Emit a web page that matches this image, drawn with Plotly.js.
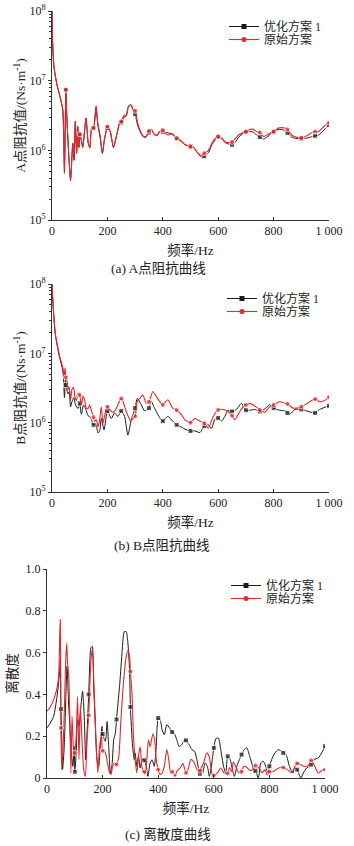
<!DOCTYPE html>
<html><head><meta charset="utf-8">
<script src="https://cdn.plot.ly/plotly-3.0.1.min.js"></script>
<style>html,body{margin:0;padding:0;background:#fff;}#chart{width:354px;height:846px;}</style>
</head><body><div id="chart"></div>
<script>
// ---------- Panel (a): A point impedance ----------
const fA_org = [0,2,7,17,29,39,45,50,53,59,67,75,80,84,89,93,97,100,106,111,119,123,131,137,143,150,159,165,174,182,189,200,210,222,234,244,250,260,268,276,285,294,300,309,318,330,340,350,359,369,379,388,400,409,421,433,450,463,481,500,511,523,539,550,565,577,589,600,614,626,641,650,662,674,686,700,716,728,738,750,764,776,788,800,819,837,850,865,880,900,915,933,950,963,981,1000];
const zA_org = [1e8,3.8e7,1.6e7,9.1e6,5.9e6,3.8e6,4.7e5,7.4e6,3.4e6,1.1e6,
  3.7e5,1.26e6,7.2e5,2.6e6,9.1e5,2.2e6,1.1e6,1.7e6,1.4e6,1.1e6,
  2.2e6,2.9e6,1.26e6,1.1e6,2.1e6,2.1e6,4.4e6,2.5e6,1.6e6,9.1e5,
  1.4e6,2.2e6,1.9e6,1.1e6,1.7e6,2.5e6,2.6e6,3.2e6,3.2e6,4.3e6,
  4.5e6,3.8e6,3.7e6,2.5e6,1.95e6,1.6e6,1.6e6,1.9e6,2.0e6,1.7e6,
  1.66e6,1.86e6,1.95e6,1.74e6,1.66e6,1.74e6,1.48e6,1.41e6,1.2e6,1.12e6,
  1.12e6,9.5e5,8.5e5,9.1e5,1.0e6,1.26e6,1.48e6,1.58e6,1.48e6,1.32e6,
  1.29e6,1.32e6,1.48e6,1.66e6,1.78e6,1.86e6,2.0e6,2.0e6,1.86e6,1.8e6,
  1.58e6,1.66e6,1.78e6,1.86e6,2.1e6,2.1e6,2.0e6,1.66e6,1.55e6,1.51e6,
  1.58e6,1.74e6,1.86e6,1.86e6,2.2e6,2.5e6];
const fA_opt = fA_org.slice();
const zA_opt = [1e8,3.8e7,1.6e7,9.1e6,5.9e6,3.8e6,4.7e5,7.4e6,3.4e6,1.1e6,
  3.7e5,1.26e6,7.2e5,2.6e6,9.1e5,2.2e6,1.1e6,1.7e6,1.4e6,1.1e6,
  2.2e6,2.9e6,1.26e6,1.1e6,2.1e6,2.1e6,4.2e6,2.4e6,1.5e6,9.0e5,
  1.4e6,2.1e6,1.85e6,1.1e6,1.7e6,2.4e6,2.5e6,3.0e6,3.1e6,4.2e6,
  4.5e6,3.6e6,3.3e6,2.3e6,1.85e6,1.55e6,1.55e6,1.8e6,1.95e6,1.7e6,
  1.62e6,1.8e6,1.85e6,1.8e6,1.78e6,1.7e6,1.5e6,1.38e6,1.2e6,1.15e6,
  1.1e6,9.5e5,8.0e5,8.2e5,9.3e5,1.2e6,1.4e6,1.55e6,1.45e6,1.28e6,
  1.22e6,1.2e6,1.32e6,1.55e6,1.7e6,1.82e6,1.86e6,1.82e6,1.66e6,1.55e6,
  1.45e6,1.55e6,1.7e6,1.82e6,2.0e6,1.95e6,1.78e6,1.55e6,1.48e6,1.48e6,
  1.48e6,1.55e6,1.62e6,1.66e6,1.95e6,2.3e6];

// ---------- Panel (b): B point impedance ----------
const fB_org = [0,5,12,23,28,35,40,44,47,50,54,58,62,67,72,78,83,88,94,100,106,112,118,124,130,136,142,150,154,160,166,172,178,184,190,200,208,220,232,240,250,256,268,284,290,300,308,316,328,340,350,364,376,388,400,418,436,450,466,480,500,516,534,550,564,582,600,618,636,650,660,678,696,700,714,732,750,768,786,800,822,840,850,870,882,900,922,950,966,984,1000];
const zB_org = [1e8,4.3e7,1.95e7,1.12e7,8.9e6,7.2e6,6.0e6,4.6e6,6.2e6,4.5e6,
  4.0e6,3.0e6,3.3e6,2.1e6,3.0e6,3.2e6,2.3e6,2.1e6,2.7e6,2.5e6,
  1.8e6,2.4e6,2.1e6,1.6e6,1.6e6,1.8e6,1.5e6,1.2e6,1.05e6,1.1e6,
  8.7e5,1.1e6,1.7e6,9.8e5,1.26e6,1.7e6,1.55e6,1.4e6,1.6e6,1.9e6,
  2.24e6,2.04e6,1.45e6,1.05e6,1.12e6,1.24e6,2.04e6,2.24e6,2.51e6,1.91e6,
  2.0e6,2.82e6,2.4e6,2.04e6,1.8e6,2.14e6,1.62e6,1.52e6,1.32e6,1.1e6,
  1.0e6,1.15e6,1.05e6,9.8e5,8.3e5,1.23e6,1.53e6,1.55e6,1.45e6,1.26e6,
  1.1e6,1.45e6,1.82e6,1.8e6,1.9e6,1.74e6,1.53e6,1.41e6,1.7e6,1.8e6,
  2.0e6,1.91e6,1.86e6,1.62e6,1.62e6,1.7e6,1.91e6,2.19e6,2.0e6,2.09e6,2.34e6];
const fB_opt = [0,5,12,23,28,35,40,45,48,50,58,62,67,72,79,85,94,100,106,114,124,130,136,142,150,158,166,172,178,188,200,214,226,238,250,262,274,286,300,308,322,334,350,358,370,386,400,418,436,450,466,484,500,516,534,550,564,576,588,600,612,624,636,650,666,684,700,714,732,750,768,786,800,822,840,850,862,876,900,918,950,966,1000];
const zB_opt = [1e8,4.2e7,1.86e7,1.05e7,8.5e6,6.6e6,5.2e6,2.3e6,4.2e6,3.5e6,
  2.6e6,2.8e6,1.7e6,2.0e6,2.3e6,1.8e6,1.6e6,1.9e6,1.32e6,1.8e6,
  1.48e6,1.26e6,1.23e6,1.12e6,9.3e5,9.5e5,7.1e5,7.6e5,1.15e6,7.9e5,
  1.48e6,1.15e6,1.38e6,1.23e6,1.48e6,1.23e6,6.6e5,1.1e6,1.62e6,2.24e6,
  1.82e6,1.48e6,1.62e6,2.04e6,1.62e6,1.23e6,1.05e6,1.23e6,1.05e6,9.3e5,
  8.7e5,7.9e5,7.6e5,7.6e5,7.2e5,8.9e5,9.3e5,8.3e5,1.12e6,1.17e6,
  1.05e6,1.23e6,1.51e6,1.45e6,1.55e6,1.9e6,1.51e6,1.51e6,1.55e6,1.45e6,
  1.58e6,1.82e6,1.62e6,1.51e6,1.48e6,1.38e6,1.35e6,1.55e6,1.55e6,1.48e6,
  1.38e6,1.55e6,1.75e6];

// ---------- Panel (c): dispersion ----------
const fC_org = [0,12,24,36,42,46,48,50,53,58,63,67,71,74,78,82,86,90,95,100,105,110,115,120,127,132,138,144,150,158,163,170,177,183,189,196,200,206,212,218,224,230,236,242,250,258,266,275,285,291,297,300,306,311,317,323,329,335,341,347,350,353,359,365,371,381,387,393,400,407,414,422,431,438,445,450,461,467,479,489,500,509,517,527,537,546,550,563,575,584,593,600,613,625,637,650,656,665,670,682,690,700,707,719,731,743,750,764,774,784,792,800,812,826,840,850,865,880,890,900,910,928,940,950,964,976,988,1000];
const dC_org = [0.32,0.34,0.375,0.43,0.49,0.70,0.758,0.24,0.04,0.15,
  0.35,0.55,0.646,0.55,0.494,0.30,0.024,0.295,0.15,0.12,
  0.20,0.39,0.088,0.343,0.15,0.04,0.008,0.183,0.30,0.566,
  0.614,0.41,0.15,0.024,0.15,0.20,0.13,0.13,0.11,0.07,
  0.03,0.016,0.056,0.072,0.065,0.10,0.28,0.455,0.582,0.611,
  0.582,0.51,0.40,0.20,0.088,0.024,0.104,0.15,0.056,0.032,
  0.03,0.016,0.088,0.183,0.15,0.212,0.183,0.088,0.04,0.016,
  0.024,0.056,0.136,0.088,0.024,0.03,0.008,0.032,0.048,0.069,
  0.024,0.048,0.088,0.08,0.048,0.024,0.035,0.072,0.12,0.10,
  0.024,0.012,0.024,0.048,0.024,0.022,0.05,0.03,0.078,0.046,
  0.024,0.03,0.056,0.05,0.035,0.045,0.06,0.045,0.025,0.04,
  0.016,0.03,0.03,0.042,0.05,0.05,0.04,0.025,0.05,0.07,
  0.065,0.054,0.06,0.085,0.054,0.024,0.035,0.04];
const fC_opt = [0,12,24,36,46,48,50,53,56,62,68,72,75,78,81,86,93,98,100,105,110,115,122,128,134,139,144,150,158,163,168,174,180,186,192,198,200,210,216,222,228,234,240,246,250,261,269,278,285,291,297,300,308,314,317,323,329,335,343,350,357,363,371,378,386,393,400,407,414,422,431,441,450,457,467,475,485,495,500,511,521,531,539,550,554,560,569,577,584,593,600,608,617,625,635,643,650,659,667,674,683,692,700,709,719,729,740,746,750,760,769,778,787,794,800,808,820,832,844,850,860,872,884,892,900,913,922,934,944,950,960,976,988,1000];
const dC_opt = [0.24,0.263,0.295,0.39,0.518,0.566,0.33,0.20,0.04,0.15,
  0.40,0.534,0.45,0.35,0.28,0.15,0.056,0.15,0.03,0.12,
  0.28,0.247,0.343,0.415,0.295,0.088,0.215,0.40,0.622,0.63,
  0.439,0.247,0.088,0.056,0.16,0.247,0.21,0.175,0.27,0.15,
  0.024,0.064,0.183,0.215,0.28,0.439,0.582,0.70,0.70,0.646,
  0.518,0.34,0.15,0.088,0.12,0.056,0.104,0.048,0.09,0.085,
  0.056,0.008,0.072,0.088,0.056,0.15,0.287,0.28,0.231,0.207,
  0.255,0.239,0.22,0.215,0.183,0.15,0.16,0.183,0.18,0.16,
  0.136,0.128,0.088,0.02,0.048,0.024,0.072,0.056,0.008,0.072,
  0.144,0.19,0.19,0.136,0.056,0.024,0.104,0.088,0.04,0.008,
  0.056,0.088,0.112,0.136,0.144,0.104,0.056,0.024,0.035,0.0,
  0.072,0.08,0.056,0.024,0.056,0.088,0.12,0.136,0.128,0.12,
  0.112,0.056,0.024,0.048,0.04,0.0,0.024,0.048,0.056,0.064,
  0.088,0.096,0.12,0.152];

const xTickVals = [0,200,400,600,800,1000];
const xTickText = ['0','200','400','600','800','1 000'];
const logTickVals = [1e5,1e6,1e7,1e8];
const logTickText = ['10<sup>5</sup>','10<sup>6</sup>','10<sup>7</sup>','10<sup>8</sup>'];
const linTickVals = [0,0.2,0.4,0.6,0.8,1.0];
const linTickText = ['0','0.2','0.4','0.6','0.8','1.0'];
const seriesNames = ['优化方案 1','原始方案'];

const BLACK = '#1a1a1a', RED = '#e8262b';
const FONT = '"Liberation Serif", "Noto Sans CJK SC", serif';
const W = 354, H = 846;
const px = v => v / W, py = v => 1 - v / H;

function msize(fs) { return fs.map(f => (f > 0 && f % 50 === 0) ? 5 : 0); }

const traces = [];
function addPanel(xa, ya, legO, legR, fo, vo, fr, vr) {
  traces.push({x: fo, y: vo, xaxis: xa, yaxis: ya, mode: 'lines+markers', type: 'scatter',
    line: {color: BLACK, width: 1, shape: 'spline', smoothing: 0.6},
    marker: {color: BLACK, symbol: 'square', size: msize(fo)}, showlegend: false, hoverinfo: 'skip'});
  traces.push({x: fr, y: vr, xaxis: xa, yaxis: ya, mode: 'lines+markers', type: 'scatter',
    line: {color: RED, width: 1.1, shape: 'spline', smoothing: 0.6},
    marker: {color: RED, symbol: 'circle', size: msize(fr)}, showlegend: false, hoverinfo: 'skip'});
  traces.push({x: [null], y: [null], xaxis: xa, yaxis: ya, mode: 'lines+markers', name: seriesNames[0],
    line: {color: BLACK, width: 1}, marker: {color: BLACK, symbol: 'square', size: 5}, legend: legO});
  traces.push({x: [null], y: [null], xaxis: xa, yaxis: ya, mode: 'lines+markers', name: seriesNames[1],
    line: {color: RED, width: 1.1}, marker: {color: RED, symbol: 'circle', size: 5}, legend: legR});
}
addPanel('x', 'y', 'legend', 'legend2', fA_opt, zA_opt, fA_org, zA_org);
addPanel('x2', 'y2', 'legend3', 'legend4', fB_opt, zB_opt, fB_org, zB_org);
addPanel('x3', 'y3', 'legend5', 'legend6', fC_opt, dC_opt, fC_org, dC_org);

const tickFont = {family: FONT, size: 12, color: '#222'};
const titleFont = {family: FONT, size: 13.5, color: '#222'};
function xaxis(x0, x1, anchor) {
  return {domain: [px(x0), px(x1)], anchor: anchor, range: [0, 1000], showgrid: false, zeroline: false,
    showline: true, linecolor: '#333', linewidth: 1, ticks: 'inside', ticklen: 3, tickcolor: '#333',
    tickmode: 'array', tickvals: xTickVals, ticktext: xTickText, tickfont: tickFont,
    title: {text: '频率/Hz', font: titleFont, standoff: 8}};
}
function logy(y0, y1, anchor, title) {
  return {domain: [py(y1), py(y0)], anchor: anchor, type: 'log', range: [5, 8], showgrid: false, zeroline: false,
    showline: true, linecolor: '#333', linewidth: 1, ticks: 'outside', ticklen: 3, tickcolor: '#333',
    tickmode: 'array', tickvals: logTickVals, ticktext: logTickText, tickfont: tickFont,
    minor: {ticks: 'outside', ticklen: 2, dtick: 'D1', tickcolor: '#333', showgrid: false},
    title: {text: title, font: titleFont, standoff: 0}};
}
const legendBase = {xanchor: 'left', yanchor: 'top', bgcolor: 'rgba(0,0,0,0)', font: {family: FONT, size: 12, color: '#222'},
  tracegroupgap: 0, itemwidth: 30};
const L = (x, y) => Object.assign({x: px(x), y: py(y)}, legendBase);

const capFont = {family: FONT, size: 13.5, color: '#222'};
const layout = {
  width: W, height: H, margin: {l: 0, r: 0, t: 0, b: 0}, paper_bgcolor: '#fff', plot_bgcolor: '#fff',
  font: {family: FONT, color: '#222'},
  xaxis: xaxis(52, 329, 'y'),
  yaxis: logy(11, 220, 'x', 'A点阻抗值/(Ns·m<sup>-1</sup>)'),
  xaxis2: xaxis(52, 329, 'y2'),
  yaxis2: logy(284, 492, 'x2', 'B点阻抗值/(Ns·m<sup>-1</sup>)'),
  xaxis3: xaxis(47, 325, 'y3'),
  yaxis3: {domain: [py(778), py(569)], anchor: 'x3', range: [0, 1], showgrid: false, zeroline: false,
    showline: true, linecolor: '#333', linewidth: 1, ticks: 'outside', ticklen: 3, tickcolor: '#333',
    tickmode: 'array', tickvals: linTickVals, ticktext: linTickText, tickfont: tickFont,
    title: {text: '离散度', font: titleFont, standoff: 4}},
  legend: L(224, 12), legend2: L(224, 25),
  legend3: L(222, 284), legend4: L(222, 297),
  legend5: L(226, 571), legend6: L(226, 584),
  annotations: [
    {text: '(a) A点阻抗曲线', x: px(158), y: py(268), xref: 'paper', yref: 'paper', xanchor: 'center', yanchor: 'middle', showarrow: false, font: capFont},
    {text: '(b) B点阻抗曲线', x: px(162), y: py(545), xref: 'paper', yref: 'paper', xanchor: 'center', yanchor: 'middle', showarrow: false, font: capFont},
    {text: '(c) 离散度曲线', x: px(168), y: py(834), xref: 'paper', yref: 'paper', xanchor: 'center', yanchor: 'middle', showarrow: false, font: capFont}
  ],
  showlegend: true
};
Plotly.newPlot('chart', traces, layout, {staticPlot: true, displayModeBar: false});
</script></body></html>
